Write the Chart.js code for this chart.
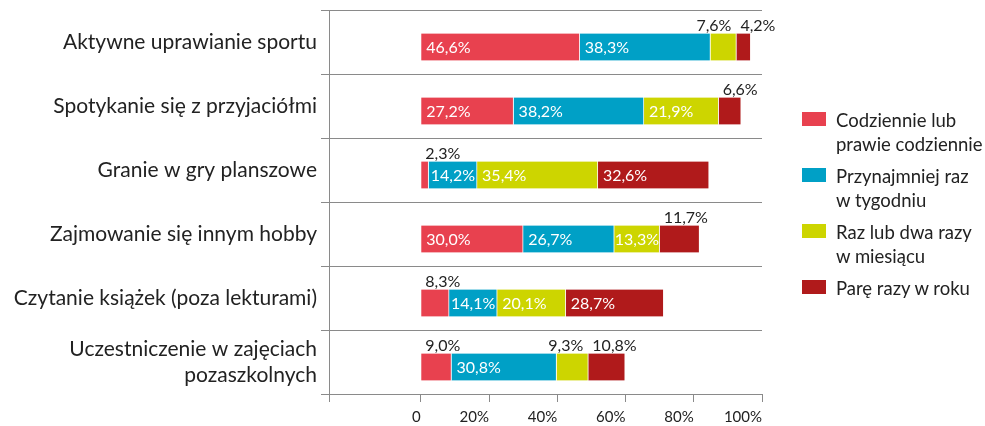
<!DOCTYPE html>
<html>
<head>
<meta charset="utf-8">
<script src="https://cdn.jsdelivr.net/npm/chart.js@4.4.1/dist/chart.umd.min.js"></script>
<style>
  html, body { margin: 0; padding: 0; background: #fff; }
  #wrap { position: relative; width: 985px; height: 426px; }
  #legend { position: absolute; left: 802px; top: 108px; font-family: Lato, sans-serif; font-size: 18.5px; color: #222; }
  .item { position: relative; padding-left: 34px; line-height: 24px; margin-bottom: 8px; white-space: nowrap; }
  .box { position: absolute; left: 0; top: 4px; width: 24px; height: 14px; }
</style>
</head>
<body>
<div id="wrap">
  <canvas id="chart" width="985" height="426"></canvas>
  <div id="legend"></div>
</div>
<script>
const categories = [
  'Aktywne uprawianie sportu',
  'Spotykanie się z przyjaciółmi',
  'Granie w gry planszowe',
  'Zajmowanie się innym hobby',
  'Czytanie książek (poza lekturami)',
  ['Uczestniczenie w zajęciach', 'pozaszkolnych']
];
const seriesNames = [
  ['Codziennie lub', 'prawie codziennie'],
  ['Przynajmniej raz', 'w tygodniu'],
  ['Raz lub dwa razy', 'w miesiącu'],
  ['Parę razy w roku']
];
const daily   = [46.6, 27.2, 2.3, 30.0, 8.3, 9.0];
const weekly  = [38.3, 38.2, 14.2, 26.7, 14.1, 30.8];
const monthly = [7.6, 21.9, 35.4, 13.3, 20.1, 9.3];
const yearly  = [4.2, 6.6, 32.6, 11.7, 28.7, 10.8];
const colors = ['#E8414F', '#00A0C6', '#CDD500', '#B01A1B'];
const xTickValues = [0, 20, 40, 60, 80, 100];
const xTickLabels = ['0', '20%', '40%', '60%', '80%', '100%'];
const xMin = -26.9;

const FONT = 'Lato, sans-serif';
const fmt = v => v.toFixed(1).replace('.', ',') + '%';

// bars sit a bit below the middle of each band, labels go inside or above
const barLabels = {
  id: 'barLabels',
  beforeDatasetsDraw(chart) {
    chart.ctx.save();
    chart.ctx.translate(0, 5);
  },
  afterDatasetsDraw(chart) {
    const ctx = chart.ctx;
    ctx.font = '16px ' + FONT;
    const n = chart.data.labels.length;
    for (let i = 0; i < n; i++) {
      const outside = [];
      chart.data.datasets.forEach((ds, d) => {
        const el = chart.getDatasetMeta(d).data[i];
        const start = Math.min(el.x, el.base), end = Math.max(el.x, el.base);
        const segW = end - start;
        const txt = fmt(ds.data[i]);
        const w = ctx.measureText(txt).width;
        if (w <= segW) {
          ctx.fillStyle = '#fff';
          ctx.textAlign = 'left';
          ctx.textBaseline = 'middle';
          ctx.fillText(txt, start + Math.min(5, (segW - w) / 2), el.y + 1);
        } else {
          outside.push({ txt, w, x: start + 4, y: el.y - el.height / 2 - 3 });
        }
      });
      for (let j = outside.length - 2; j >= 0; j--) {
        const next = outside[j + 1];
        if (outside[j].x + outside[j].w + 9 > next.x) outside[j].x = next.x - 9 - outside[j].w;
      }
      ctx.fillStyle = '#222';
      ctx.textAlign = 'left';
      ctx.textBaseline = 'alphabetic';
      outside.forEach(o => ctx.fillText(o.txt, o.x, o.y));
    }
    ctx.restore();
  }
};

const data = [daily, weekly, monthly, yearly];

new Chart(document.getElementById('chart'), {
  type: 'bar',
  data: {
    labels: categories,
    datasets: data.map((arr, k) => ({
      label: seriesNames[k].join(' '),
      data: arr,
      backgroundColor: colors[k],
      borderColor: 'rgba(255,255,255,0.6)',
      borderWidth: { left: 0, right: 1, top: 0, bottom: 0 },
      borderSkipped: false,
      barThickness: 27
    }))
  },
  options: {
    indexAxis: 'y',
    responsive: false,
    animation: false,
    layout: { padding: { top: 10, right: 223, left: 0, bottom: 0 } },
    plugins: { legend: { display: false }, tooltip: { enabled: false } },
    scales: {
      x: {
        stacked: true,
        min: xMin,
        max: 100,
        afterBuildTicks: s => { s.ticks = [xMin, ...xTickValues].map(v => ({ value: v })); },
        afterFit: s => { s.height = 32; s.paddingLeft = 0; s.paddingRight = 0; },
        ticks: {
          align: 'end',
          padding: 6,
          color: '#222',
          font: { family: FONT, size: 15 },
          callback: v => { const i = xTickValues.indexOf(v); return i < 0 ? '' : xTickLabels[i]; }
        },
        grid: { drawOnChartArea: false, drawTicks: true, tickLength: 8, color: '#8a8a8a' },
        border: { display: false }
      },
      y: {
        stacked: true,
        afterFit: s => { s.width = 329; s.paddingTop = 0; s.paddingBottom = 0; },
        ticks: {
          padding: 4,
          color: '#222',
          font: { family: FONT, size: 21, lineHeight: 1.25 }
        },
        grid: {
          offset: true,
          tickLength: 8,
          tickColor: '#8a8a8a',
          color: c => c.index >= categories.length ? 'rgba(0,0,0,0)' : '#8a8a8a'
        },
        border: { color: '#8a8a8a' }
      }
    }
  },
  plugins: [barLabels]
});

const legend = document.getElementById('legend');
seriesNames.forEach((lines, k) => {
  const item = document.createElement('div');
  item.className = 'item';
  item.innerHTML = '<span class="box" style="background:' + colors[k] + '"></span>' + lines.join('<br>');
  legend.appendChild(item);
});
</script>
</body>
</html>
